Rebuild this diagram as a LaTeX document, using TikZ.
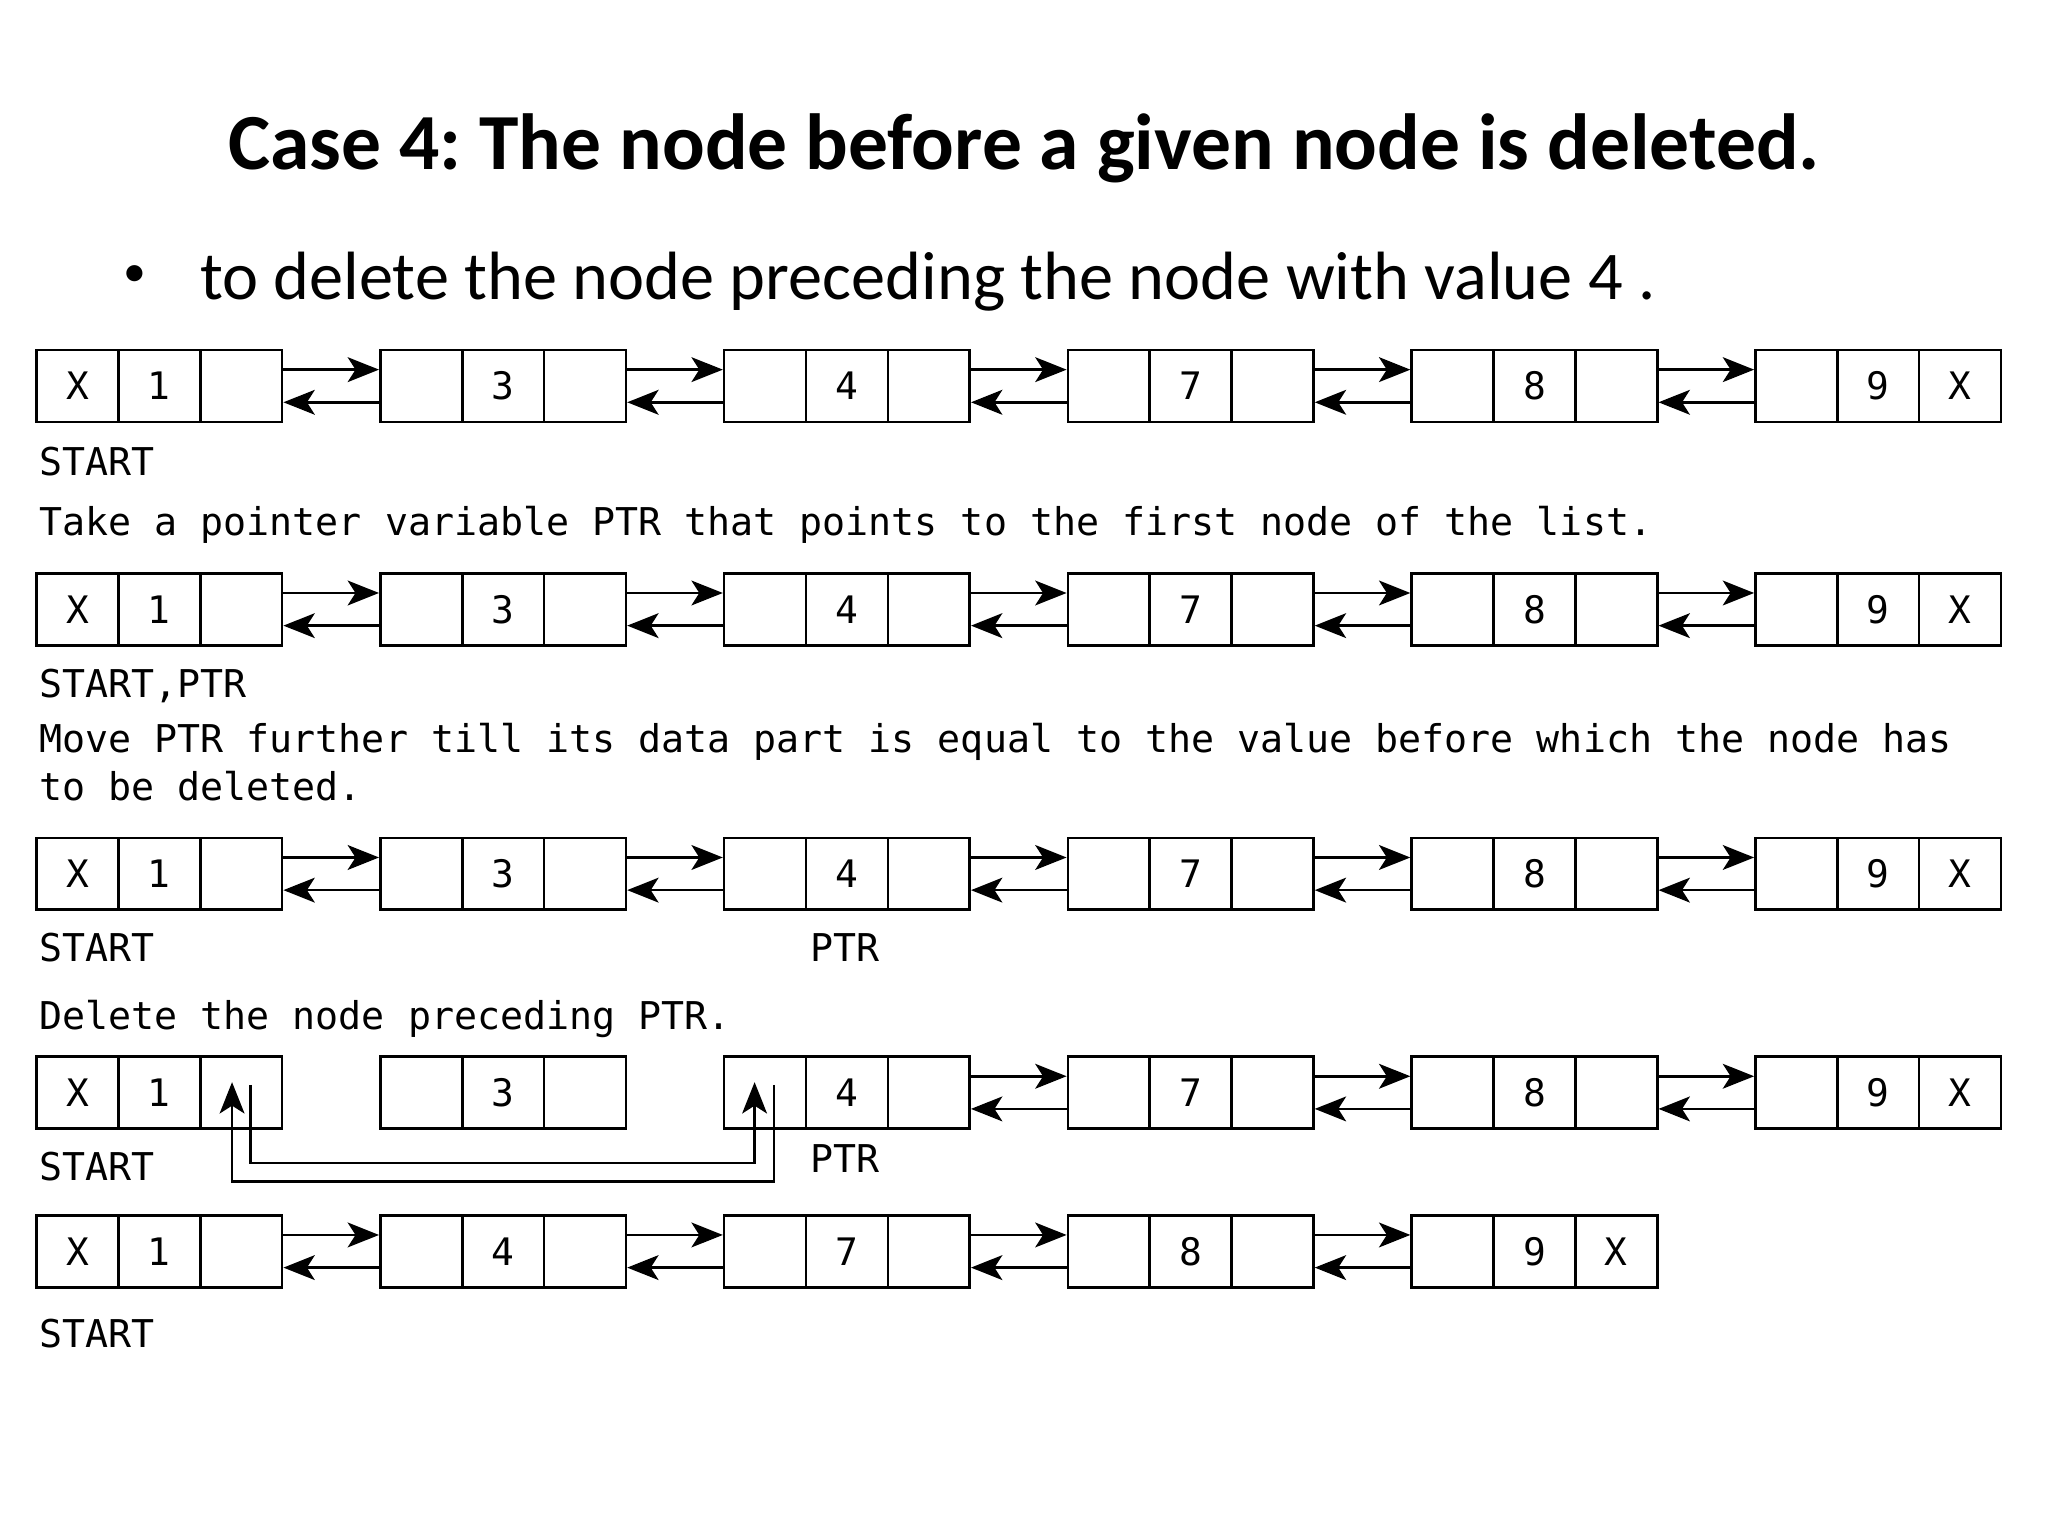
\documentclass[tikz,border=0pt]{standalone}
\usepackage{fontspec}
\setmainfont{Carlito}
\newfontfamily\monof{DejaVu Sans Mono}
\usetikzlibrary{arrows.meta}
\frenchspacing
\begin{document}
\begin{tikzpicture}[x=1pt,y=-1pt,
  cell/.style={draw, line width=2pt, minimum width=62.67pt, minimum height=55pt, inner sep=0pt, font=\monof\fontsize{29}{29}\selectfont},
  link/.style={line width=2pt, -{Stealth[length=24pt,width=19pt,inset=6pt]}},
  mono/.style={anchor=base west, inner sep=0pt, font=\monof\fontsize{29.3}{30}\selectfont}]
\useasboundingbox[fill=white] (0,0) rectangle (1568,1176);
\node[anchor=base, inner sep=0pt, font=\bfseries\fontsize{60.9}{62}\selectfont] (title) at (784,130) {Case 4: The node before a given node is deleted.};
\node[anchor=base, inner sep=0pt, font=\fontsize{35}{36}\selectfont] (bullet) at (103.4,219.5) {•};
\node[anchor=base west, inner sep=0pt, font=\fontsize{52.3}{54}\selectfont] (sub) at (153,229) {to delete the node preceding the node with value 4 .};
% rows 1-4
\foreach \r/\y in {1/295.5,2/466.5,3/669,4/836.5}{
  \foreach \i/\a/\b/\c in {1/X/1/{},2/{}/3/{},3/{}/4/{},4/{}/7/{},5/{}/8/{},6/{}/9/X}{
    \pgfmathsetmacro\lx{28+263.2*(\i-1)}
    \node[cell] (a-\r-\i) at (\lx+31.33,\y) {\a};
    \node[cell] (b-\r-\i) at (\lx+94,\y) {\b};
    \node[cell] (c-\r-\i) at (\lx+156.67,\y) {\c};
  }
}
% row 5
\foreach \i/\a/\b/\c in {1/X/1/{},2/{}/4/{},3/{}/7/{},4/{}/8/{},5/{}/9/X}{
  \pgfmathsetmacro\lx{28+263.2*(\i-1)}
  \node[cell] (a-5-\i) at (\lx+31.33,958) {\a};
  \node[cell] (b-5-\i) at (\lx+94,958) {\b};
  \node[cell] (c-5-\i) at (\lx+156.67,958) {\c};
}
% links
\foreach \r/\s in {1/1,2/1,3/1,4/3}{
  \foreach \i [evaluate=\i as \j using int(\i+1)] in {\s,...,5}{
    \draw[link] ([yshift=12.5pt]c-\r-\i.east) -- ([yshift=12.5pt]a-\r-\j.west);
    \draw[link] ([yshift=-12.5pt]a-\r-\j.west) -- ([yshift=-12.5pt]c-\r-\i.east);
  }
}
\foreach \i [evaluate=\i as \j using int(\i+1)] in {1,...,4}{
  \draw[link] ([yshift=12.5pt]c-5-\i.east) -- ([yshift=12.5pt]a-5-\j.west);
  \draw[link] ([yshift=-12.5pt]a-5-\j.west) -- ([yshift=-12.5pt]c-5-\i.east);
}
% bypass links in row 4
\draw[link] ([xshift=7pt,yshift=6pt]c-4-1.center) -- ++(0,60) -| ([xshift=-8pt,yshift=8pt]a-4-3.center);
\draw[link] ([xshift=7pt,yshift=6pt]a-4-3.center) -- ++(0,74) -| ([xshift=-7pt,yshift=8pt]c-4-1.center);
% texts
\node[mono] (s1) at (30,364) {START};
\node[mono] (t1) at (30,410) {Take a pointer variable PTR that points to the first node of the list.};
\node[mono] (s2) at (30,534) {START,PTR};
\node[mono] (t2a) at (30,576) {Move PTR further till its data part is equal to the value before which the node has};
\node[mono] (t2b) at (30,613) {to be deleted.};
\node[mono] (s3) at (30,736) {START};
\node[mono] (p3) at (620,736) {PTR};
\node[mono] (t3) at (30,788) {Delete the node preceding PTR.};
\node[mono] (s4) at (30,904) {START};
\node[mono] (p4) at (620,898) {PTR};
\node[mono] (s5) at (30,1032) {START};
\end{tikzpicture}
\end{document}
